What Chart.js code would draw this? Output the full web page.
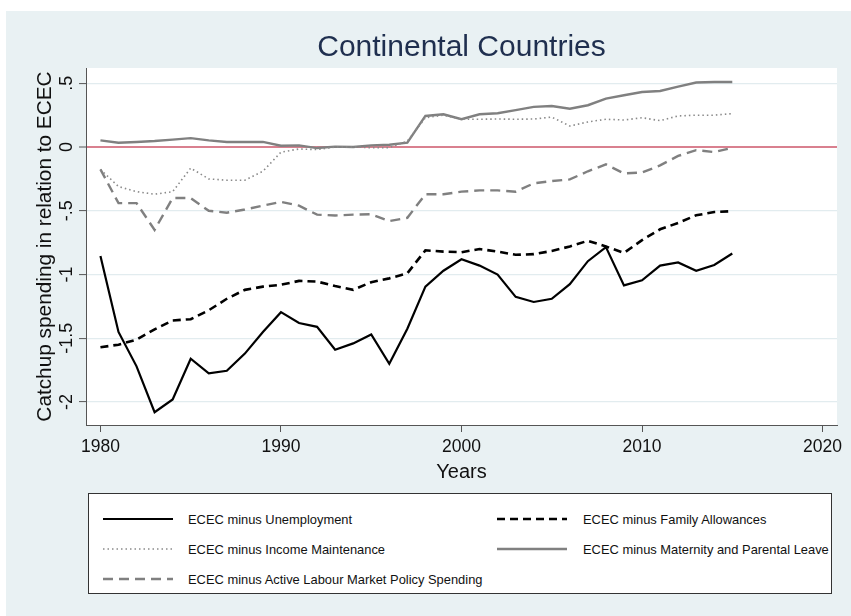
<!DOCTYPE html>
<html>
<head>
<meta charset="utf-8">
<script src="https://cdn.jsdelivr.net/npm/chart.js@4/dist/chart.umd.min.js"></script>
<style>
  html, body { margin: 0; padding: 0; background: #ffffff; }
  #wrap { position: relative; width: 851px; height: 616px; overflow: hidden; }
  #bg { position: absolute; left: 6px; top: 11px; right: 0; bottom: 0; background: #e9f1f3; }
  #c { position: absolute; left: 0; top: 0; }
  #legend { position: absolute; left: 88px; top: 493px; width: 742px; height: 99px;
            background: #fff; border: 1px solid #333; font-family: 'Liberation Sans', Arial, sans-serif;
            font-size: 12.9px; color: #111; }
  .item { position: absolute; height: 20px; display: flex; align-items: center; white-space: nowrap; }
  .item svg { display: block; }
</style>
</head>
<body>
<div id="wrap">
  <div id="bg"></div>
  <canvas id="c" width="851" height="616"></canvas>
  <div id="legend"></div>
</div>
<script>
const years = [1980,1981,1982,1983,1984,1985,1986,1987,1988,1989,1990,1991,1992,1993,1994,1995,1996,1997,1998,1999,2000,2001,2002,2003,2004,2005,2006,2007,2008,2009,2010,2011,2012,2013,2014,2015];

const unemployment = [-0.855,-1.45,-1.72,-2.08,-1.98,-1.66,-1.775,-1.755,-1.62,-1.45,-1.295,-1.38,-1.41,-1.59,-1.54,-1.47,-1.70,-1.425,-1.095,-0.97,-0.88,-0.93,-1.0,-1.175,-1.215,-1.19,-1.075,-0.895,-0.785,-1.085,-1.045,-0.93,-0.905,-0.97,-0.925,-0.835];

const familyAllowances = [-1.57,-1.55,-1.51,-1.43,-1.36,-1.35,-1.28,-1.19,-1.12,-1.095,-1.08,-1.05,-1.055,-1.09,-1.12,-1.06,-1.03,-0.99,-0.81,-0.82,-0.825,-0.80,-0.82,-0.845,-0.84,-0.815,-0.78,-0.735,-0.78,-0.83,-0.73,-0.645,-0.595,-0.535,-0.51,-0.503];

const incomeMaintenance = [-0.175,-0.31,-0.35,-0.37,-0.35,-0.165,-0.25,-0.26,-0.26,-0.19,-0.04,-0.015,-0.02,0.0,0.0,-0.005,-0.005,0.047,0.23,0.25,0.218,0.218,0.22,0.218,0.22,0.235,0.165,0.197,0.218,0.212,0.23,0.207,0.244,0.25,0.25,0.262];

const maternityLeave = [0.052,0.034,0.04,0.047,0.058,0.07,0.052,0.04,0.04,0.04,0.01,0.013,-0.008,0.003,0.0,0.013,0.018,0.034,0.244,0.257,0.218,0.257,0.265,0.29,0.315,0.322,0.30,0.328,0.38,0.406,0.432,0.44,0.474,0.506,0.51,0.51];

const activeLabour = [-0.175,-0.44,-0.44,-0.65,-0.40,-0.40,-0.50,-0.515,-0.49,-0.46,-0.43,-0.46,-0.53,-0.537,-0.53,-0.527,-0.58,-0.555,-0.37,-0.37,-0.35,-0.34,-0.34,-0.35,-0.285,-0.267,-0.254,-0.19,-0.136,-0.207,-0.2,-0.144,-0.07,-0.024,-0.04,-0.005];

const seriesNames = [
  'ECEC minus Unemployment',
  'ECEC minus Family Allowances',
  'ECEC minus Income Maintenance',
  'ECEC minus Maternity and Parental Leave',
  'ECEC minus Active Labour Market Policy Spending'
];

const xTickValues = [1980, 1990, 2000, 2010, 2020];
const xTickLabels = ['1980', '1990', '2000', '2010', '2020'];
const yTickValues = [-2, -1.5, -1, -0.5, 0, 0.5];
const yTickLabels = ['-2', '-1.5', '-1', '-.5', '0', '.5'];

const titleText = 'Continental Countries';
const xTitle = 'Years';
const yTitle = 'Catchup spending in relation to ECEC';

const FONT = "'Liberation Sans', Arial, sans-serif";

function pts(vals) { return years.map((y, i) => ({ x: y, y: vals[i] })); }

const styles = [
  { color: '#000000', width: 2.2, dash: [] },
  { color: '#000000', width: 2.6, dash: [8, 5] },
  { color: '#8a8a8a', width: 1.6, dash: [1.5, 3] },
  { color: '#808080', width: 2.4, dash: [] },
  { color: '#808080', width: 2.4, dash: [10, 6] }
];
const values = [unemployment, familyAllowances, incomeMaintenance, maternityLeave, activeLabour];

const datasets = values.map((v, i) => ({
  label: seriesNames[i],
  data: pts(v),
  borderColor: styles[i].color,
  borderWidth: styles[i].width,
  borderDash: styles[i].dash,
  pointRadius: 0,
  tension: 0,
  fill: false
}));

const plotBg = {
  id: 'plotBg',
  beforeDraw(chart) {
    const { ctx, chartArea: a } = chart;
    ctx.save();
    ctx.fillStyle = '#ffffff';
    ctx.fillRect(a.left, a.top, a.right - a.left, a.bottom - a.top);
    ctx.restore();
  }
};

const chart = new Chart(document.getElementById('c'), {
  type: 'line',
  data: { datasets },
  plugins: [plotBg],
  options: {
    responsive: false,
    animation: false,
    layout: { padding: { left: 0, right: 14, top: 0, bottom: 131 } },
    plugins: {
      legend: { display: false },
      tooltip: { enabled: false },
      title: {
        display: true, text: titleText, color: '#1f2f4f', fullSize: false,
        font: { family: FONT, size: 30, weight: 'normal' },
        padding: { top: 30, bottom: 2 }
      }
    },
    scales: {
      x: {
        type: 'linear', min: 1979.2, max: 2020.8,
        afterBuildTicks: s => { s.ticks = xTickValues.map(v => ({ value: v })); },
        afterFit: s => { s.height = 60; s.paddingLeft = 0; s.paddingRight = 0; },
        ticks: {
          includeBounds: false, stepSize: 10, maxRotation: 0, autoSkip: false,
          color: '#111', padding: 4.5,
          font: { family: FONT, size: 17.5 },
          callback: v => { const k = xTickValues.indexOf(v); return k >= 0 ? xTickLabels[k] : ''; }
        },
        grid: { drawOnChartArea: false, drawTicks: true, tickLength: 7, tickColor: '#555', tickWidth: 1 },
        border: { display: true, color: '#555', width: 1 },
        title: { display: true, text: xTitle, color: '#111', font: { family: FONT, size: 20 }, padding: { top: 0, bottom: 1 } }
      },
      y: {
        type: 'linear', min: -2.18, max: 0.62,
        afterBuildTicks: s => { s.ticks = yTickValues.map(v => ({ value: v })); },
        afterFit: s => { s.width = 86; s.paddingTop = 0; s.paddingBottom = 0; },
        ticks: {
          includeBounds: false, stepSize: 0.5, minRotation: 90, maxRotation: 90, autoSkip: false,
          crossAlign: 'center', color: '#111', padding: -4,
          font: { family: FONT, size: 18 },
          callback: v => { const k = yTickValues.findIndex(t => Math.abs(t - v) < 1e-9); return k >= 0 ? yTickLabels[k] : ''; }
        },
        grid: {
          drawOnChartArea: true, drawTicks: true, tickLength: 7, tickWidth: 1,
          color: c => (c.tick && Math.abs(c.tick.value) < 1e-9) ? '#d9808f' : '#e2ecef',
          lineWidth: c => (c.tick && Math.abs(c.tick.value) < 1e-9) ? 2 : 1.2,
          tickColor: '#555'
        },
        border: { display: true, color: '#555', width: 1 },
        title: { display: true, text: yTitle, color: '#111', font: { family: FONT, size: 20.8 }, padding: { top: 32.5, bottom: 0 } }
      }
    }
  }
});

// HTML legend built from the chart's datasets
(function buildLegend() {
  const box = document.getElementById('legend');
  const rowsY = [15, 45, 75];
  const colSample = [14, 408];
  const colText = [99, 494];
  chart.data.datasets.forEach((ds, i) => {
    const r = Math.floor(i / 2), c = i % 2;
    const sample = document.createElement('div');
    sample.className = 'item';
    sample.style.left = colSample[c] + 'px';
    sample.style.top = rowsY[r] + 'px';
    const dash = (ds.borderDash && ds.borderDash.length) ? ds.borderDash.join(' ') : 'none';
    sample.innerHTML = '<svg width="70" height="20"><line x1="0" y1="10" x2="70" y2="10" stroke="' + ds.borderColor +
      '" stroke-width="' + ds.borderWidth + '" stroke-dasharray="' + dash + '"/></svg>';
    box.appendChild(sample);
    const t = document.createElement('div');
    t.className = 'item';
    t.style.left = colText[c] + 'px';
    t.style.top = rowsY[r] + 'px';
    t.textContent = ds.label;
    box.appendChild(t);
  });
})();
</script>
</body>
</html>
